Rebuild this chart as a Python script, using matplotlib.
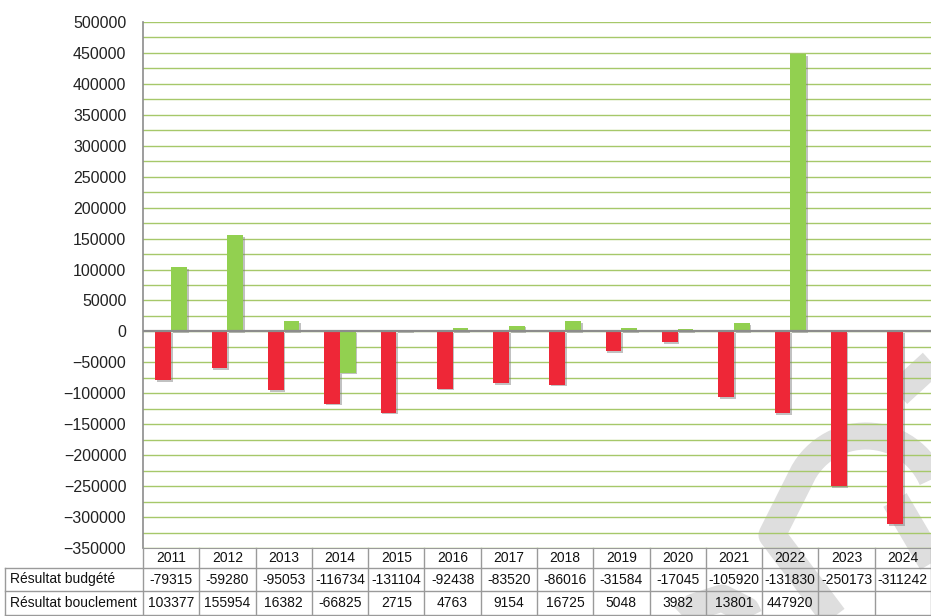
import matplotlib
matplotlib.use("Agg")
import matplotlib.pyplot as plt
import matplotlib.patheffects as pe
from matplotlib.transforms import blended_transform_factory
import numpy as np

years = ["2011", "2012", "2013", "2014", "2015", "2016", "2017",
         "2018", "2019", "2020", "2021", "2022", "2023", "2024"]
budget = [-79315, -59280, -95053, -116734, -131104, -92438, -83520,
          -86016, -31584, -17045, -105920, -131830, -250173, -311242]
bouclement = [103377, 155954, 16382, -66825, 2715, 4763, 9154,
              16725, 5048, 3982, 13801, 447920, None, None]
row_labels = ["Résultat budgété", "Résultat bouclement"]

RED = "#ee2737"
GREEN = "#92d050"
GRID = "#a6c86a"
BORDER = "#9a9a9a"

plt.rcParams["font.family"] = ["Liberation Sans", "DejaVu Sans"]

W, H = 931, 616
fig = plt.figure(figsize=(W / 100, H / 100), dpi=100)

# watermark, drawn behind everything in pixel coordinates
bg = fig.add_axes([0, 0, 1, 1], zorder=-1)
bg.set_xlim(0, W)
bg.set_ylim(H, 0)
bg.axis("off")
wm = dict(color="#dedede", lw=19.5, solid_capstyle="butt", solid_joinstyle="round")
t = np.linspace(np.radians(150), np.radians(-15), 40)
arc_x = 866 + 72 * np.cos(t)
arc_y = 508 - 72 * np.sin(t)
bg.plot(np.r_[842, 772, arc_x], np.r_[628, 535, arc_y], **wm)
bg.plot([898, 948], [394, 348], **wm)
bg.plot([895, 948], [500, 590], **wm)
bg.plot([668, 694, 722, 746, 756], [632, 607, 598, 610, 630], **wm)

ax = fig.add_axes([143 / W, 1 - 548 / H, (W - 143) / W, 526 / H])
ax.patch.set_alpha(0)

x = np.arange(len(years))
bw = 0.28
shadow = [pe.SimplePatchShadow(offset=(1.2, -1.2), shadow_rgbFace="#777777", alpha=0.45),
          pe.Normal()]
b1 = ax.bar(x - bw / 2, budget, bw, color=RED, zorder=3)
vals = [v if v is not None else 0 for v in bouclement]
b2 = ax.bar(x + bw / 2, vals, bw, color=GREEN, zorder=3)
for p in list(b1) + list(b2):
    p.set_path_effects(shadow)

ax.set_xlim(-0.5, len(years) - 0.5)
ax.set_ylim(-350000, 500000)
ax.set_yticks(np.arange(-350000, 500001, 50000))
ax.set_yticks(np.arange(-325000, 500000, 50000), minor=True)
ax.yaxis.grid(True, which="both", color=GRID, lw=1.0, zorder=0)
ax.set_xticks([])
ax.tick_params(axis="y", which="both", length=0, pad=12, labelsize=11.5,
               labelcolor="#222222")
ax.axhline(0, color="#8c8c8c", lw=1.6, zorder=4)
for s in ["top", "right"]:
    ax.spines[s].set_visible(False)
ax.spines["left"].set_color("#8c8c8c")
ax.spines["left"].set_linewidth(1.2)
ax.spines["bottom"].set_color(BORDER)

# data table under the plot
tr = blended_transform_factory(ax.transData, ax.transAxes)
trf = blended_transform_factory(fig.transFigure, ax.transAxes)
rows_y = [0, -20 / 526, -43 / 526, -67 / 526]
lk = dict(color=BORDER, lw=1.0, clip_on=False)
for i in range(len(years) + 1):
    ax.plot([i - 0.5, i - 0.5], [rows_y[0], rows_y[3]], transform=tr, **lk)
for y in rows_y[1:]:
    ax.plot([5 / W, 1], [y, y], transform=trf, **lk)
ax.plot([5 / W, 5 / W], [rows_y[1], rows_y[3]], transform=trf, **lk)

tk = dict(ha="center", va="center", fontsize=10, color="#111111", clip_on=False)
for i, yr in enumerate(years):
    ax.text(i, (rows_y[0] + rows_y[1]) / 2, yr, transform=tr, **tk)
    ax.text(i, (rows_y[1] + rows_y[2]) / 2, str(budget[i]), transform=tr, **tk)
    if bouclement[i] is not None:
        ax.text(i, (rows_y[2] + rows_y[3]) / 2, str(bouclement[i]), transform=tr, **tk)
for j, lab in enumerate(row_labels):
    ax.text(10 / W, (rows_y[j + 1] + rows_y[j + 2]) / 2, lab, transform=trf,
            ha="left", va="center", fontsize=10, color="#111111")

fig.savefig("out.png", dpi=100)
